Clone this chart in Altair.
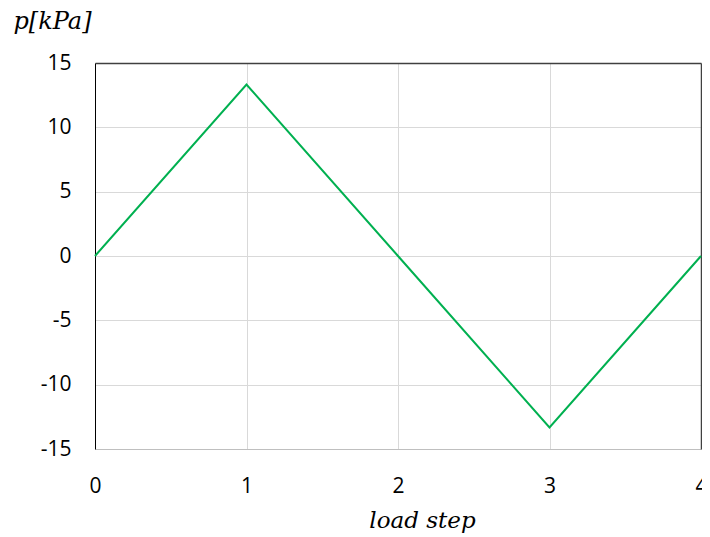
import altair as alt
import pandas as pd

steps = [0, 1, 2, 3, 4]
pressure = [0, 13.33, 0, -13.33, 0]
y_ticks = [-15, -10, -5, 0, 5, 10, 15]
x_ticks = [0, 1, 2, 3, 4]
y_grid = [-10, -5, 0, 5, 10]
x_grid = [1, 2, 3]

df = pd.DataFrame({"step": steps, "p": pressure})

xs = alt.Scale(domain=[0, 4], nice=False, zero=False)
ys = alt.Scale(domain=[-15, 15], nice=False, zero=False)

label_font = "Open Sans"
title_font = "DejaVu Serif"

bottom_axis = alt.Axis(
    orient="bottom",
    values=x_ticks, grid=False, ticks=False, tickSize=0,
    domainColor="#bfbfbf", domainWidth=1,
    labelFont=label_font, labelFontSize=21, labelColor="#000000",
    labelBaseline="alphabetic", labelPadding=43, labelFlush=False,
    labelExpr="'' + datum.value",
    title="load step", titleFont=title_font, titleFontStyle="italic",
    titleFontWeight="normal", titleFontSize=23, titleColor="#000000",
    titleX=327, titleY=78, titleAlign="center", titleBaseline="alphabetic",
)
left_axis = alt.Axis(
    orient="left",
    values=y_ticks, grid=False, ticks=False, tickSize=0,
    domainColor="#000000", domainWidth=1,
    labelFont=label_font, labelFontSize=21, labelColor="#000000",
    labelPadding=24, labelFlush=False,
    labelExpr="'' + datum.value",
    title="p[kPa]", titleFont=title_font, titleFontStyle="italic",
    titleFontWeight="normal", titleFontSize=24, titleColor="#000000",
    titleAngle=0, titleX=-82, titleY=-35, titleAlign="left",
    titleBaseline="alphabetic",
)
top_axis = alt.Axis(
    orient="top",
    values=x_grid, grid=True, gridColor="#d9d9d9", gridWidth=1,
    ticks=False, labels=False, title=None,
    domainColor="#404040", domainWidth=1.5,
)
right_axis = alt.Axis(
    orient="right",
    values=y_grid, grid=True, gridColor="#d9d9d9", gridWidth=1,
    ticks=False, labels=False, title=None,
    domainColor="#404040", domainWidth=1.5,
)

frame = alt.Chart(df).mark_line(opacity=0).encode(
    x=alt.X("step:Q", scale=xs, axis=top_axis),
    y=alt.Y("p:Q", scale=ys, axis=right_axis),
)
line = alt.Chart(df).mark_line(color="#00B050", strokeWidth=2).encode(
    x=alt.X("step:Q", scale=xs, axis=bottom_axis),
    y=alt.Y("p:Q", scale=ys, axis=left_axis),
)

chart = (
    alt.layer(frame, line)
    .resolve_axis(x="independent", y="independent")
    .properties(
        width=606,
        height=386,
        padding={"left": 87, "top": 55, "right": 1, "bottom": 86},
        autosize=alt.AutoSizeParams(type="none"),
        background="white",
    )
    .configure_view(stroke=None)
)

chart.save("out.html", embed_options={"renderer": "svg", "actions": False})
